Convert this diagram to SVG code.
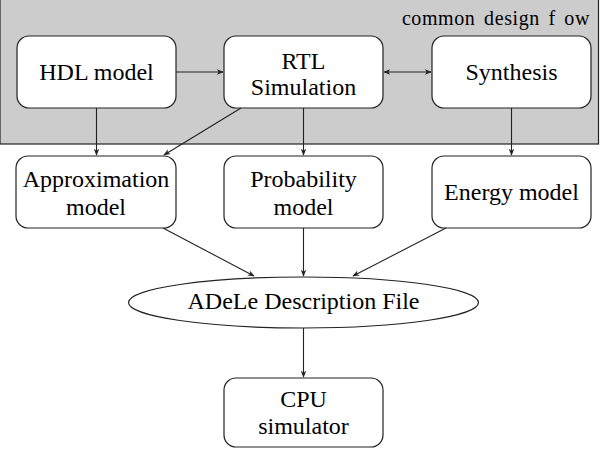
<svg xmlns="http://www.w3.org/2000/svg" width="600" height="450" viewBox="0 0 600 450">
<defs>
<style>
.box{fill:#fff;stroke:#222;stroke-width:1.2}
text{font-family:'Liberation Serif','Times New Roman',serif;fill:#000}
.t{font-size:24px;text-anchor:middle}
.e{stroke:#222;stroke-width:1.1;fill:none;marker-end:url(#ah)}
</style>
<marker id="ah" viewBox="0 0 10 10" refX="9" refY="5" markerWidth="7" markerHeight="7" orient="auto-start-reverse" markerUnits="userSpaceOnUse">
<path d="M0,1 L10,5 L0,9 L3,5 Z" fill="#222"/>
</marker>
</defs>
<rect width="600" height="450" fill="#fff"/>
<g id="flow">
<rect x="0" y="-1" width="598.5" height="145" fill="#cccccc" stroke="#222" stroke-width="1.2"/>
<text x="590" y="25" font-size="20" text-anchor="end" letter-spacing="0.6" word-spacing="3">common design f ow</text>
</g>
<g id="hdl"><rect class="box" x="17" y="36" width="159" height="72" rx="12"/><text class="t" x="96.5" y="80">HDL model</text></g>
<g id="rtl"><rect class="box" x="224" y="36" width="159" height="72" rx="12"/><text class="t" x="303.5" y="69">RTL</text><text class="t" x="303.5" y="95">Simulation</text></g>
<g id="syn"><rect class="box" x="432" y="36" width="159" height="72" rx="12"/><text class="t" x="511.5" y="80">Synthesis</text></g>
<g id="approx"><rect class="box" x="16" y="156" width="160" height="72" rx="12"/><text class="t" x="96" y="187">Approximation</text><text class="t" x="96" y="215">model</text></g>
<g id="prob"><rect class="box" x="224" y="156" width="159" height="72" rx="12"/><text class="t" x="303.5" y="187">Probability</text><text class="t" x="303.5" y="215">model</text></g>
<g id="energy"><rect class="box" x="432" y="156" width="159" height="72" rx="12"/><text class="t" x="511.5" y="200">Energy model</text></g>
<g id="adele"><ellipse cx="303.5" cy="302.5" rx="175" ry="25.5" fill="#fff" stroke="#222" stroke-width="1.2"/><text class="t" x="303.5" y="309">ADeLe Description File</text></g>
<g id="cpu"><rect class="box" x="224" y="378" width="159" height="69" rx="12"/><text class="t" x="303.5" y="407">CPU</text><text class="t" x="303.5" y="434">simulator</text></g>
<g id="connectors">
<line class="e" x1="176" y1="72" x2="223" y2="72"/>
<line class="e" x1="384" y1="72" x2="431" y2="72" style="marker-start:url(#ah)"/>
<line class="e" x1="96.5" y1="108" x2="96.5" y2="155"/>
<line class="e" x1="241" y1="108" x2="164" y2="155"/>
<line class="e" x1="303.5" y1="108" x2="303.5" y2="155"/>
<line class="e" x1="511.5" y1="108" x2="511.5" y2="155"/>
<line class="e" x1="163" y1="228" x2="254" y2="276"/>
<line class="e" x1="303.5" y1="228" x2="303.5" y2="276"/>
<line class="e" x1="446" y1="228" x2="353" y2="276"/>
<line class="e" x1="303.5" y1="328" x2="303.5" y2="377"/>
</g>
</svg>
